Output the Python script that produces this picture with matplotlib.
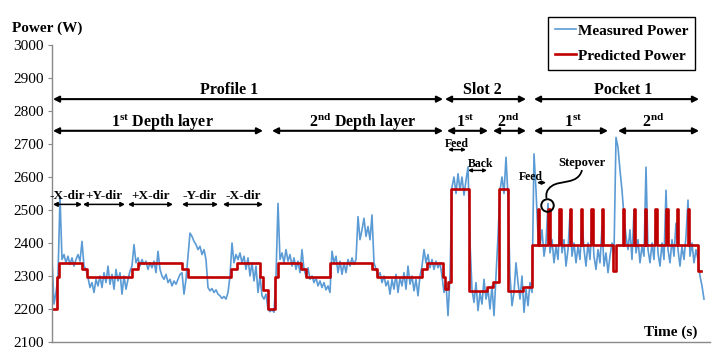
import numpy as np
import matplotlib
matplotlib.use("Agg")
import matplotlib.pyplot as plt
from matplotlib.path import Path
from matplotlib.patches import PathPatch

plt.rcParams["font.family"] = ["Liberation Serif", "DejaVu Serif"]
plt.rcParams["mathtext.fontset"] = "custom"
plt.rcParams["mathtext.rm"] = "Liberation Serif"
plt.rcParams["mathtext.bf"] = "Liberation Serif:bold"

# measured spindle power (W), one sample every 2 s
dt = 2
measured_w = [
    2350, 2215, 2250, 2300, 2540, 2350, 2365, 2340, 2360, 2335,
    2355, 2330, 2350, 2365, 2345, 2405, 2330, 2320, 2295, 2265,
    2280, 2250, 2290, 2270, 2300, 2265, 2310, 2280, 2330, 2275,
    2305, 2260, 2320, 2285, 2310, 2245, 2300, 2260, 2290, 2315,
    2330, 2395, 2340, 2355, 2330, 2350, 2335, 2345, 2320, 2340,
    2325, 2345, 2310, 2375, 2320, 2300, 2290, 2305, 2280, 2290,
    2270, 2285, 2275, 2290, 2305, 2310, 2245, 2290, 2360, 2430,
    2420, 2405, 2395, 2380, 2390, 2365, 2380, 2350, 2265, 2255,
    2262, 2250, 2258, 2245, 2240, 2232, 2238, 2230, 2250, 2300,
    2400, 2340, 2365, 2350, 2370, 2340, 2360, 2320, 2355, 2300,
    2340, 2285, 2330, 2250, 2300, 2240, 2230, 2245, 2200, 2192,
    2198, 2190, 2300, 2520, 2350, 2370, 2340, 2380, 2345, 2365,
    2330, 2355, 2320, 2345, 2310, 2380, 2320, 2300, 2325, 2290,
    2300, 2280, 2295, 2270, 2285, 2265, 2280, 2258, 2270, 2250,
    2375, 2340, 2360, 2310, 2345, 2305, 2340, 2310, 2350, 2330,
    2355, 2335, 2350, 2480, 2410, 2440, 2475, 2420, 2450, 2410,
    2485, 2340, 2320, 2300, 2310, 2280, 2300, 2270, 2285, 2245,
    2290, 2260, 2305, 2250, 2295, 2270, 2310, 2260, 2330, 2275,
    2300, 2255, 2290, 2240, 2300, 2330, 2380, 2340, 2365, 2325,
    2350, 2320, 2345, 2325, 2340, 2300, 2250, 2280, 2180, 2300,
    2570, 2600, 2550, 2610, 2560, 2600, 2545, 2590, 2630, 2400,
    2260, 2220, 2280, 2195, 2250, 2215, 2290, 2230, 2260, 2200,
    2270, 2180, 2300, 2420, 2560, 2600, 2550, 2660, 2540, 2300,
    2210, 2250, 2340, 2280, 2230, 2300, 2190, 2260, 2210, 2280,
    2250, 2670, 2560, 2420, 2390, 2440, 2360, 2400, 2520, 2370,
    2410, 2340, 2390, 2350, 2480, 2370, 2410, 2330, 2380, 2490,
    2360, 2400, 2340, 2390, 2350, 2470, 2380, 2330, 2400, 2350,
    2460, 2360, 2320, 2380, 2340, 2450, 2330, 2370, 2310, 2360,
    2400, 2370, 2720, 2690, 2620, 2560, 2480, 2420, 2380, 2440,
    2350, 2500, 2370, 2410, 2340, 2390, 2360, 2630, 2380, 2340,
    2400, 2350, 2480, 2370, 2330, 2400, 2350, 2560, 2380, 2340,
    2410, 2360, 2460, 2380, 2330, 2390, 2350, 2420, 2530, 2360,
    2400, 2340, 2380, 2350, 2300, 2270, 2230,
]

# predicted power: step changes (time s, power W)
pred_t = [0, 5, 7, 30, 35, 80, 86, 130, 136, 179, 185, 208, 211, 216, 223, 226,
          249, 254, 278, 320, 325, 370, 375, 391, 393, 396, 399, 417, 435, 441,
          447, 456, 471, 480, 560.7, 564, 646, 649]
pred_w = [2200, 2297, 2340, 2320, 2297, 2320, 2340, 2320, 2297, 2320, 2340, 2297, 2257, 2200, 2297, 2340,
          2320, 2297, 2340, 2320, 2297, 2320, 2340, 2297, 2260, 2283, 2563, 2255, 2267, 2281,
          2563, 2255, 2267, 2395, 2315, 2395, 2315, 2315]
# stepover spikes in pocket
spike_t = [486.5, 497, 508, 518.5, 529.2, 540, 550.5,
           571.3, 582.2, 593.2, 604, 615, 625.7, 636.5]
spike_w = 2502
spike_half = 0.6

BLUE = "#5B9BD5"
RED = "#C00000"


def with_spikes(ts, ws, spikes):
    pts = list(zip(ts, ws))
    for c in spikes:
        i = int(np.searchsorted(ts, c, side="right")) - 1
        pts += [(c - spike_half, spike_w), (c + spike_half, ws[i])]
    pts.sort()
    return [p[0] for p in pts], [p[1] for p in pts]


fig = plt.figure(figsize=(7.13, 3.54), dpi=100)
ax = fig.add_axes([52 / 713, 1 - 342 / 354, 658 / 713, 297 / 354])

t_meas = np.arange(len(measured_w)) * dt
ax.plot(t_meas, measured_w, color=BLUE, lw=1.2, label="Measured Power")
pt, pw = with_spikes(pred_t, pred_w, spike_t)
ax.plot(pt, pw, color=RED, lw=1.9, drawstyle="steps-post", label="Predicted Power")

ax.set_xlim(0, 658)
ax.set_ylim(2100, 3000)
ax.set_yticks(range(2100, 3001, 100))
ax.set_xticks([])
ax.tick_params(axis="y", direction="out", length=3, color="#898989", labelsize=11, pad=3)
for s in ("top", "right"):
    ax.spines[s].set_visible(False)
for s in ("left", "bottom"):
    ax.spines[s].set_color("#898989")
    ax.spines[s].set_linewidth(1.0)


def darrow(x0, x1, y, lw=1.5, hl=0.35, hw=0.18):
    ax.annotate("", xy=(x1, y), xytext=(x0, y),
                arrowprops=dict(arrowstyle=f"<|-|>,head_length={hl},head_width={hw}",
                                color="black", lw=lw, shrinkA=0, shrinkB=0))


def label(x, y, s, size):
    ax.text(x, y, s, ha="center", va="baseline", fontsize=size, fontweight="bold")


# operations row
darrow(1, 391, 2836)
darrow(393, 474, 2836)
darrow(482, 647, 2836)
label(177, 2851, "Profile 1", 11.5)
label(430, 2851, "Slot 2", 11.5)
label(571, 2851, "Pocket 1", 11.5)

# depth layers row
st = r"$\mathbf{1}^{\mathbf{st}}$"
nd = r"$\mathbf{2}^{\mathbf{nd}}$"
darrow(1, 211, 2740)
darrow(220, 391, 2740)
darrow(395, 436, 2740)
darrow(441, 474, 2740)
darrow(482, 556, 2740)
darrow(566, 647, 2740)
label(110, 2751, st + " Depth layer", 11.5)
label(311, 2751, nd + " Depth layer", 11.5)
label(413, 2751, st, 11.5)
label(456, 2751, nd, 11.5)
label(521, 2751, st, 11.5)
label(601, 2751, nd, 11.5)

# feed directions
dirs = ["-X-dir", "+Y-dir", "+X-dir", "-Y-dir", "-X-dir"]
dir_span = [(1, 30), (31, 73), (76, 121), (130, 166), (171, 211)]
for name, (a, b) in zip(dirs, dir_span):
    darrow(a, b, 2517, lw=1.1, hl=0.25, hw=0.13)
    label((a + b) / 2, 2532, name, 9.5)

# slot / pocket feed notes
darrow(396, 414, 2683, lw=1.0, hl=0.2, hw=0.1)
label(405, 2692, "Feed", 8.5)
darrow(416, 435, 2620, lw=1.0, hl=0.2, hw=0.1)
label(429, 2630, "Back", 8.5)
darrow(485, 494, 2583, lw=1.0, hl=0.2, hw=0.1)
label(479, 2592, "Feed", 8.5)
label(530, 2632, "Stepover", 9)

verts = [(530, 2621), (526, 2576), (508, 2591), (500, 2573),
         (494, 2561), (494, 2548), (494.5, 2535)]
codes = [Path.MOVETO, Path.CURVE4, Path.CURVE4, Path.CURVE4,
         Path.CURVE4, Path.CURVE4, Path.CURVE4]
ax.add_patch(PathPatch(Path(verts, codes), fill=False, color="black", lw=1.3))
ax.plot([494.7], [2515], marker="o", ms=9, mfc="none", mec="black", mew=1.4)

ax.text(645, 2118, "Time (s)", ha="right", va="baseline", fontsize=11, fontweight="bold")
fig.text(12 / 713, 1 - 32 / 354, "Power (W)", ha="left", va="baseline",
         fontsize=11, fontweight="bold")

leg = ax.legend(loc="upper right", bbox_to_anchor=(695 / 713, 1 - 17 / 354),
                bbox_transform=fig.transFigure, fancybox=False, edgecolor="black",
                framealpha=1, handlelength=1.4, handletextpad=0.1, borderpad=0.45,
                labelspacing=0.75, borderaxespad=0, prop={"weight": "bold", "size": 11})
leg.get_frame().set_linewidth(1.0)

fig.savefig("out.png", dpi=100)
